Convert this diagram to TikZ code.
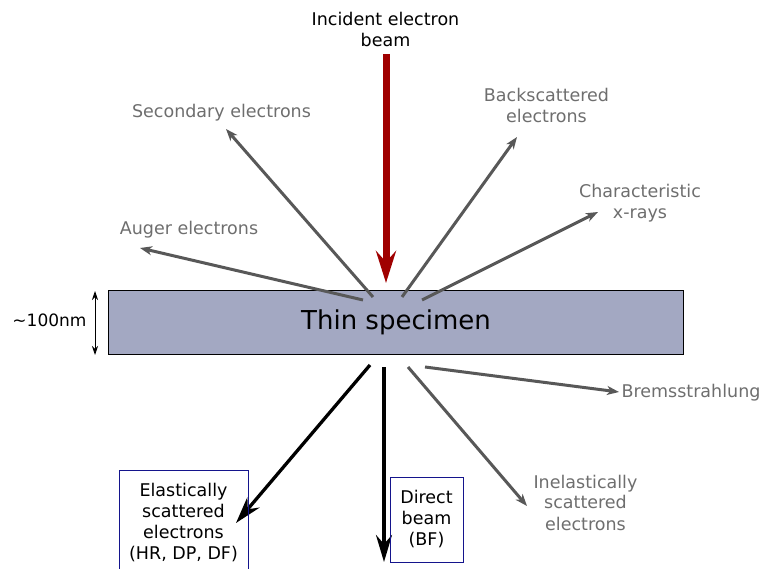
\documentclass[tikz,border=0pt]{standalone}
\usepackage{fontspec}
\setmainfont{DejaVu Sans}
\usetikzlibrary{arrows.meta}
\definecolor{specfill}{RGB}{163,168,194}
\definecolor{beamred}{RGB}{160,0,0}
\definecolor{raygray}{RGB}{88,88,88}
\definecolor{labelgray}{RGB}{110,110,110}
\definecolor{boxblue}{RGB}{20,20,140}
\begin{document}
\begin{tikzpicture}[x=1pt,y=-1pt,
  lbl/.style={font=\fontsize{17.5}{21}\selectfont, align=center, inner sep=0pt},
  graylbl/.style={lbl, text=labelgray},
  ray/.style={draw=raygray, line width=3pt, -{Stealth[length=12pt,width=9pt,inset=3.5pt]}},
  blackray/.style={draw=black, line width=3.3pt, -{Stealth[length=27pt,width=16pt,inset=9pt]}},
  beamarrow/.style={draw=beamred, line width=7pt, -{Stealth[length=32pt,width=20pt,inset=11pt]}},
  outbox/.style={lbl, draw=boxblue, line width=0.8pt},
  dimarrow/.style={draw=black, line width=0.8pt, {Stealth[length=9pt,width=6pt]}-{Stealth[length=9pt,width=6pt]}}]
\useasboundingbox (0,0) rectangle (765,569);

% specimen
\node[draw=black, line width=0.8pt, fill=specfill, minimum width=575pt, minimum height=64pt,
      inner sep=0pt, font=\fontsize{26}{30}\selectfont] (spec) at (396,322) {Thin specimen};

% thickness
\coordinate (dimtop) at (95,291);
\coordinate (dimbot) at (95,355);
\draw[dimarrow] (dimtop) -- (dimbot);
\node[lbl, font=\fontsize{17}{20}\selectfont, anchor=base] (thick) at (49.5,326.7) {\textasciitilde100nm};

% incident beam
\node[lbl, anchor=north] (inc) at (385.5,12.2) {Incident electron\\beam};
\coordinate (beamtop) at (386,54);
\coordinate (beamtip) at (386,283);
\draw[beamarrow] (beamtop) -- (beamtip);

% labels above
\node[graylbl, anchor=north] (sec) at (221.5,104.5) {Secondary electrons};
\node[graylbl, anchor=north] (aug) at (189,221) {Auger electrons};
\node[graylbl, anchor=north] (back) at (546.5,88.5) {Backscattered\\electrons};
\node[graylbl, anchor=north] (xray) at (640,184.5) {Characteristic\\x-rays};

% labels below
\node[graylbl, anchor=north] (brems) at (691,384.5) {Bremsstrahlung};
\node[graylbl, anchor=north] (inel) at (585.5,474.5) {Inelastically\\scattered\\electrons};

% ray coordinates
\coordinate (secS) at (373,297);  \coordinate (secT) at (226,129);
\coordinate (augS) at (363,300);  \coordinate (augT) at (140,248);
\coordinate (backS) at (402,297); \coordinate (backT) at (517,137);
\coordinate (xrayS) at (422,300); \coordinate (xrayT) at (598,212);
\coordinate (bremS) at (425,367); \coordinate (bremT) at (619,392);
\coordinate (inelS) at (408,367); \coordinate (inelT) at (527,506);
\coordinate (elasS) at (370,365); \coordinate (elasT) at (236,523);
\coordinate (dirS) at (384,367);  \coordinate (dirT) at (384,562);

\draw[ray] (secS) -- (secT);
\draw[ray] (augS) -- (augT);
\draw[ray] (backS) -- (backT);
\draw[ray] (xrayS) -- (xrayT);
\draw[ray] (bremS) -- (bremT);
\draw[ray] (inelS) -- (inelT);
\draw[blackray] (elasS) -- (elasT);
\draw[blackray] (dirS) -- (dirT);

% boxes (drawn over the arrows)
\node[outbox, anchor=north, minimum width=129pt, inner ysep=12.5pt] (elas) at (183.5,470)
  {Elastically\\scattered\\electrons\\(HR, DP, DF)};
\node[outbox, minimum width=73pt, minimum height=85pt] (direct) at (426.5,519.5)
  {Direct\\beam\\(BF)};
\end{tikzpicture}
\end{document}
